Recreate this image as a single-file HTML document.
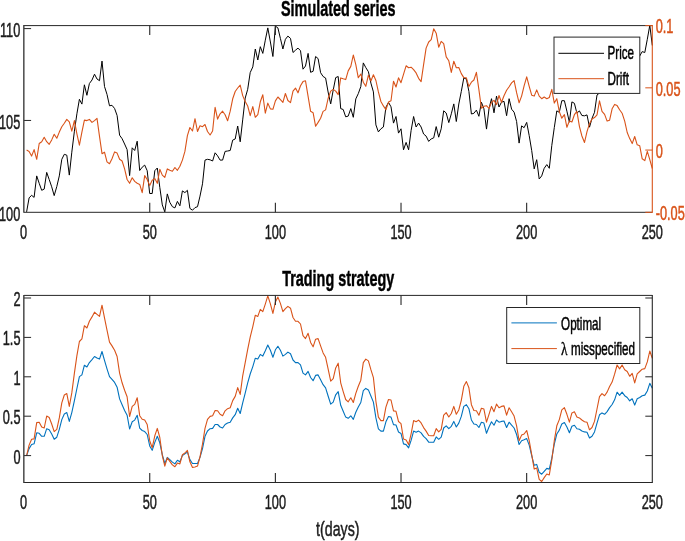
<!DOCTYPE html>
<html><head><meta charset="utf-8"><title>Simulated series</title>
<style>html,body{margin:0;padding:0;background:#fff}svg{display:block}text{font-family:"Liberation Sans",sans-serif}</style>
</head><body>
<svg width="685" height="541" viewBox="0 0 685 541">
<rect width="685" height="541" fill="#fff"/>
<polyline points="26.6,211.9 29.1,197.9 31.6,195.3 34.1,197.4 36.7,175.9 39.2,183.3 41.7,190.3 44.2,189.1 46.7,172.4 49.2,179.5 51.7,186.8 54.2,195.6 56.8,186.5 59.3,175.9 61.8,159.3 64.3,154.3 66.8,155.2 69.3,175.1 71.8,152.2 74.4,131.2 76.9,113.8 79.4,99.3 81.9,104.1 84.4,84.8 86.9,95.3 89.4,83.5 92.0,80.0 94.5,74.2 97.0,79.0 99.5,80.7 102.0,61.1 104.5,86.5 107.0,94.4 109.5,105.8 112.0,105.3 114.6,108.5 117.1,115.5 119.6,135.2 122.1,138.7 124.6,144.0 127.1,149.6 129.6,175.6 132.2,147.8 134.7,150.5 137.2,141.2 139.7,170.5 142.2,167.2 144.7,165.1 147.2,170.7 149.7,193.5 152.2,193.5 154.8,170.7 157.3,168.0 159.8,187.4 162.3,204.9 164.8,211.9 167.3,193.9 169.8,202.3 172.4,206.7 174.9,207.9 177.4,201.4 179.9,205.8 182.4,190.9 184.9,192.6 187.4,190.3 189.9,208.4 192.5,210.2 195.0,207.6 197.5,206.7 200.0,196.1 202.5,183.8 205.0,160.1 207.5,159.3 210.1,159.8 212.6,161.0 215.1,152.8 217.6,155.8 220.1,160.1 222.6,160.1 225.1,151.4 227.6,151.0 230.2,150.5 232.7,140.1 235.2,139.0 237.7,126.0 240.2,141.8 242.7,119.9 245.2,98.1 247.7,89.3 250.2,72.6 252.8,66.9 255.3,49.0 257.8,60.0 260.3,46.7 262.8,53.4 265.3,40.2 267.8,27.9 270.4,42.0 272.9,56.5 275.4,26.1 277.9,27.9 280.4,38.4 282.9,49.0 285.4,39.3 287.9,36.1 290.5,38.4 293.0,52.5 295.5,50.2 298.0,48.1 300.5,50.7 303.0,69.2 305.5,66.0 308.1,53.4 310.6,72.3 313.1,71.3 315.6,56.5 318.1,58.6 320.6,72.7 323.1,76.5 325.6,78.0 328.1,92.0 330.7,103.9 333.2,90.2 335.7,77.6 338.2,76.5 340.7,108.6 343.2,109.5 345.7,116.8 348.2,116.1 350.8,108.6 353.3,117.3 355.8,98.9 358.3,93.6 360.8,86.6 363.3,62.9 365.8,67.6 368.4,71.7 370.9,83.1 373.4,91.9 375.9,124.9 378.4,131.9 380.9,128.8 383.4,127.0 385.9,107.3 388.5,102.4 391.0,106.8 393.5,123.1 396.0,116.5 398.5,133.1 401.0,128.8 403.5,149.8 406.1,142.4 408.6,149.8 411.1,130.5 413.6,116.5 416.1,127.0 418.6,123.1 421.1,127.0 423.6,134.0 426.1,136.1 428.7,141.4 431.2,138.9 433.7,137.9 436.2,126.6 438.7,137.2 441.2,128.8 443.7,110.8 446.2,113.0 448.8,122.6 451.3,113.8 453.8,103.9 456.3,121.5 458.8,104.0 461.3,91.4 463.8,78.0 466.4,79.1 468.9,91.4 471.4,114.0 473.9,113.3 476.4,110.1 478.9,116.3 481.4,102.2 483.9,108.7 486.5,129.1 489.0,108.7 491.5,98.7 494.0,112.8 496.5,96.1 499.0,107.0 501.5,102.2 504.0,101.3 506.6,115.7 509.1,98.7 511.6,109.2 514.1,112.2 516.6,121.5 519.1,143.1 521.6,125.9 524.1,127.7 526.7,122.4 529.2,135.6 531.7,150.5 534.2,168.9 536.7,159.7 539.2,179.0 541.7,175.9 544.2,168.3 546.8,164.6 549.3,168.3 551.8,145.4 554.3,127.5 556.8,110.9 559.3,112.3 561.8,100.7 564.4,100.7 566.9,111.2 569.4,122.2 571.9,101.9 574.4,103.3 576.9,113.2 579.4,110.9 581.9,115.5 584.5,115.8 587.0,114.9 589.5,127.2 592.0,118.4 594.5,112.3 597.0,95.0 599.5,93.0 602.0,88.0 604.6,90.0 607.1,84.0 609.6,86.0 612.1,80.0 614.6,82.0 617.1,76.0 619.6,78.0 622.1,72.0 624.7,74.0 627.2,68.0 629.7,66.0 632.2,62.0 634.7,64.0 637.2,58.0 639.7,56.0 642.2,51.6 644.8,52.5 647.3,39.3 649.8,25.3 652.3,45.5" fill="none" stroke="#000000" stroke-width="1.0" stroke-linejoin="round"/>
<polyline points="26.6,150.1 29.1,151.4 31.6,156.1 34.1,149.6 36.7,159.3 39.2,143.5 41.7,141.7 44.2,137.3 46.7,141.7 49.2,144.3 51.7,139.9 54.2,134.2 56.8,138.2 59.3,132.1 61.8,126.8 64.3,123.3 66.8,119.4 69.3,121.9 71.8,131.2 74.4,120.6 76.9,133.8 79.4,145.2 81.9,132.1 84.4,120.1 86.9,120.6 89.4,119.4 92.0,122.4 94.5,120.6 97.0,118.3 99.5,136.4 102.0,153.7 104.5,152.2 107.0,161.9 109.5,163.7 112.0,158.7 114.6,151.9 117.1,153.1 119.6,159.3 122.1,161.0 124.6,168.9 127.1,179.5 129.6,183.3 132.2,177.7 134.7,181.4 137.2,183.3 139.7,184.4 142.2,192.6 144.7,175.6 147.2,179.5 149.7,185.6 152.2,180.3 154.8,178.6 157.3,183.3 159.8,169.3 162.3,175.1 164.8,177.3 167.3,168.9 169.8,170.3 172.4,171.2 174.9,167.5 177.4,170.3 179.9,166.3 182.4,160.1 184.9,151.4 187.4,135.6 189.9,127.5 192.5,131.0 195.0,118.7 197.5,131.5 200.0,125.7 202.5,126.7 205.0,124.5 207.5,131.5 210.1,135.0 212.6,131.0 215.1,107.3 217.6,119.1 220.1,113.8 222.6,111.2 225.1,114.7 227.6,120.8 230.2,111.2 232.7,98.8 235.2,91.5 237.7,88.0 240.2,85.1 242.7,95.6 245.2,101.6 247.7,106.0 250.2,115.6 252.8,106.6 255.3,117.3 257.8,114.7 260.3,101.8 262.8,94.8 265.3,113.2 267.8,103.1 270.4,108.9 272.9,109.3 275.4,100.9 277.9,97.0 280.4,99.6 282.9,102.3 285.4,93.5 287.9,100.5 290.5,102.6 293.0,91.1 295.5,88.1 298.0,92.8 300.5,85.8 303.0,81.6 305.5,80.8 308.1,96.3 310.6,111.3 313.1,112.7 315.6,126.3 318.1,122.4 320.6,118.2 323.1,111.4 325.6,109.9 328.1,98.5 330.7,91.1 333.2,89.4 335.7,91.1 338.2,94.6 340.7,77.9 343.2,78.8 345.7,79.6 348.2,70.9 350.8,66.4 353.3,55.0 355.8,64.7 358.3,77.8 360.8,74.0 363.3,82.2 365.8,86.3 368.4,75.2 370.9,81.0 373.4,74.7 375.9,80.5 378.4,91.9 380.9,101.5 383.4,105.9 385.9,109.8 388.5,102.1 391.0,100.7 393.5,81.3 396.0,87.0 398.5,77.8 401.0,82.7 403.5,74.4 406.1,65.8 408.6,67.8 411.1,67.2 413.6,69.7 416.1,72.9 418.6,78.3 421.1,81.6 423.6,64.7 426.1,48.1 428.7,42.0 431.2,39.7 433.7,28.8 436.2,33.2 438.7,47.2 441.2,41.4 443.7,43.7 446.2,56.9 448.8,60.8 451.3,72.4 453.8,61.2 456.3,67.7 458.8,67.5 461.3,73.6 463.8,77.6 466.4,77.8 468.9,86.6 471.4,82.2 473.9,80.0 476.4,72.3 478.9,89.6 481.4,108.3 483.9,106.3 486.5,105.7 489.0,108.5 491.5,102.4 494.0,100.4 496.5,104.6 499.0,95.5 501.5,102.2 504.0,95.8 506.6,90.3 509.1,86.8 511.6,82.9 514.1,80.6 516.6,92.7 519.1,102.8 521.6,96.1 524.1,85.9 526.7,76.8 529.2,86.4 531.7,95.2 534.2,96.1 536.7,89.9 539.2,96.1 541.7,98.7 544.2,97.0 546.8,98.7 549.3,97.5 551.8,89.4 554.3,103.1 556.8,98.7 559.3,111.6 561.8,118.2 564.4,114.7 566.9,127.3 569.4,120.9 571.9,122.0 574.4,114.7 576.9,111.4 579.4,126.3 581.9,136.0 584.5,142.5 587.0,131.6 589.5,123.7 592.0,119.0 594.5,117.6 597.0,114.9 599.5,100.9 602.0,111.4 604.6,114.4 607.1,121.1 609.6,120.2 612.1,108.8 614.6,104.4 617.1,105.6 619.6,109.7 622.1,113.2 624.7,121.1 627.2,132.5 629.7,138.6 632.2,143.6 634.7,136.5 637.2,144.8 639.7,145.7 642.2,158.8 644.8,160.6 647.3,151.3 649.8,159.7 652.3,168.5" fill="none" stroke="#D95319" stroke-width="1.1" stroke-linejoin="round"/>
<polyline points="26.6,455.6 29.1,448.6 31.6,444.5 34.1,443.8 36.7,432.8 39.2,433.3 41.7,436.3 44.2,436.3 46.7,428.7 49.2,429.8 51.7,434.0 54.2,439.3 56.8,437.2 59.3,429.3 61.8,419.6 64.3,414.0 66.8,412.6 69.3,421.4 71.8,412.6 74.4,400.6 76.9,388.5 79.4,376.6 81.9,374.9 84.4,365.2 86.9,367.0 89.4,362.6 92.0,359.6 94.5,356.5 97.0,357.9 99.5,359.1 102.0,351.5 104.5,360.3 107.0,368.8 109.5,376.6 112.0,379.3 114.6,382.4 117.1,387.2 119.6,398.9 122.1,404.7 124.6,410.5 127.1,415.2 129.6,429.0 132.2,421.7 134.7,420.1 137.2,415.2 139.7,428.2 142.2,430.5 144.7,431.6 147.2,434.5 149.7,445.9 152.2,450.3 154.8,442.4 157.3,436.3 159.8,442.8 162.3,454.7 164.8,463.5 167.3,457.4 169.8,459.6 172.4,462.1 174.9,463.9 177.4,460.3 179.9,461.8 182.4,455.6 184.9,453.9 187.4,452.1 189.9,459.6 192.5,463.5 195.0,463.5 197.5,463.5 200.0,457.4 202.5,448.6 205.0,436.3 207.5,431.0 210.1,428.7 212.6,428.4 215.1,424.5 217.6,424.5 220.1,427.0 222.6,428.0 225.1,424.5 227.6,423.1 230.2,422.2 232.7,417.9 235.2,414.7 237.7,408.2 240.2,413.5 242.7,402.9 245.2,393.1 247.7,382.8 250.2,374.0 252.8,366.6 255.3,358.2 257.8,359.1 260.3,354.4 262.8,356.1 265.3,350.8 267.8,345.0 270.4,350.3 272.9,357.3 275.4,349.8 277.9,346.3 280.4,350.3 282.9,356.1 285.4,354.4 287.9,352.1 290.5,353.8 293.0,360.0 295.5,362.6 298.0,362.6 300.5,364.9 303.0,373.1 305.5,374.9 308.1,371.4 310.6,377.5 313.1,380.7 315.6,375.4 318.1,374.9 320.6,379.7 323.1,384.7 325.6,387.9 328.1,396.0 330.7,404.2 333.2,402.1 335.7,394.8 338.2,391.6 340.7,405.3 343.2,411.3 345.7,417.1 348.2,418.3 350.8,415.8 353.3,419.4 355.8,412.3 358.3,407.1 360.8,402.5 363.3,390.7 365.8,388.4 368.4,389.9 370.9,396.0 373.4,402.1 375.9,417.9 378.4,428.8 380.9,431.1 383.4,431.1 385.9,421.8 388.5,416.5 391.0,417.1 393.5,424.6 396.0,425.0 398.5,432.0 401.0,433.4 403.5,443.9 406.1,444.6 408.6,447.8 411.1,440.4 413.6,431.1 416.1,432.3 418.6,431.1 421.1,432.9 423.6,436.4 426.1,438.7 428.7,442.2 431.2,442.3 433.7,442.3 436.2,436.9 438.7,439.3 441.2,437.2 443.7,428.0 446.2,425.8 448.8,428.7 451.3,426.3 453.8,421.4 456.3,427.0 458.8,423.1 461.3,416.4 463.8,406.4 466.4,404.7 468.9,408.7 471.4,420.0 473.9,424.0 476.4,424.5 478.9,427.5 481.4,422.2 483.9,423.1 486.5,433.3 489.0,427.0 491.5,421.7 494.0,425.2 496.5,420.0 499.0,422.2 501.5,421.4 504.0,421.0 506.6,427.5 509.1,422.2 511.6,425.2 514.1,428.0 516.6,434.5 519.1,444.5 521.6,440.7 524.1,439.8 526.7,438.6 529.2,445.1 531.7,455.6 534.2,465.3 536.7,464.4 539.2,472.3 541.7,474.2 544.2,471.4 546.8,468.4 549.3,469.1 551.8,458.2 554.3,444.2 556.8,434.0 559.3,430.1 561.8,424.0 564.4,422.6 566.9,427.0 569.4,432.8 571.9,426.3 574.4,425.2 576.9,428.7 579.4,429.3 581.9,431.0 584.5,431.9 587.0,432.2 589.5,438.0 592.0,436.3 594.5,431.9 597.0,423.1 599.5,414.8 602.0,412.9 604.6,414.3 607.1,411.6 609.6,407.6 612.1,404.5 614.6,399.8 617.1,392.2 619.6,395.3 622.1,392.2 624.7,395.7 627.2,397.5 629.7,400.8 632.2,398.8 634.7,405.1 637.2,398.8 639.7,397.5 642.2,395.7 644.8,395.1 647.3,391.0 649.8,383.3 652.3,388.2" fill="none" stroke="#0072BD" stroke-width="1.1" stroke-linejoin="round"/>
<polyline points="26.6,455.6 29.1,445.1 31.6,439.3 34.1,438.9 36.7,422.6 39.2,422.2 41.7,427.0 44.2,428.0 46.7,416.1 49.2,417.5 51.7,424.0 54.2,431.6 56.8,429.3 59.3,417.9 61.8,402.9 64.3,395.0 66.8,393.6 69.3,406.4 71.8,392.9 74.4,373.1 76.9,355.6 79.4,341.5 81.9,338.9 84.4,325.7 86.9,328.0 89.4,321.3 92.0,316.9 94.5,312.2 97.0,314.3 99.5,316.4 102.0,305.2 104.5,317.8 107.0,330.1 109.5,342.1 112.0,345.9 114.6,350.3 117.1,356.5 119.6,373.1 122.1,382.8 124.6,390.2 127.1,396.8 129.6,416.5 132.2,406.4 134.7,404.4 137.2,397.7 139.7,415.7 142.2,419.3 144.7,420.0 147.2,424.5 149.7,440.7 152.2,447.7 154.8,435.8 157.3,428.4 159.8,437.5 162.3,455.6 164.8,466.1 167.3,457.9 169.8,461.4 172.4,464.9 174.9,466.7 177.4,463.1 179.9,463.9 182.4,454.7 184.9,453.0 187.4,450.3 189.9,461.8 192.5,467.4 195.0,467.0 197.5,466.1 200.0,456.8 202.5,444.2 205.0,428.4 207.5,419.3 210.1,416.4 212.6,415.7 215.1,410.5 217.6,410.8 220.1,414.3 222.6,415.7 225.1,410.8 227.6,408.7 230.2,407.7 232.7,400.6 235.2,396.4 237.7,387.6 240.2,394.4 242.7,375.8 245.2,362.6 247.7,349.4 250.2,337.1 252.8,326.6 255.3,315.2 257.8,316.4 260.3,309.4 262.8,311.7 265.3,304.1 267.8,295.9 270.4,303.8 272.9,313.4 275.4,302.0 277.9,297.1 280.4,303.4 282.9,311.7 285.4,308.7 287.9,306.4 290.5,308.2 293.0,317.5 295.5,321.3 298.0,321.3 300.5,324.0 303.0,335.7 305.5,338.6 308.1,333.3 310.6,342.4 313.1,346.8 315.6,339.2 318.1,338.6 320.6,345.9 323.1,352.9 325.6,357.3 328.1,368.8 330.7,381.2 333.2,378.6 335.7,367.9 338.2,363.2 340.7,382.8 343.2,391.6 345.7,399.5 348.2,401.8 350.8,397.8 353.3,402.5 355.8,393.4 358.3,386.3 360.8,380.2 363.3,362.6 365.8,359.1 368.4,360.9 370.9,369.7 373.4,377.6 375.9,401.3 378.4,417.1 380.9,420.6 383.4,420.6 385.9,407.1 388.5,399.5 391.0,400.0 393.5,410.9 396.0,411.3 398.5,421.5 401.0,423.6 403.5,439.0 406.1,439.9 408.6,444.6 411.1,433.8 413.6,420.6 416.1,421.8 418.6,420.1 421.1,422.9 423.6,427.6 426.1,431.1 428.7,435.5 431.2,435.8 433.7,435.8 436.2,428.6 438.7,431.9 441.2,429.3 443.7,415.2 446.2,412.6 448.8,417.0 451.3,413.5 453.8,406.4 456.3,414.3 458.8,409.9 461.3,400.3 463.8,386.3 466.4,381.6 468.9,387.8 471.4,404.7 473.9,410.5 476.4,410.8 478.9,415.2 481.4,408.2 483.9,409.1 486.5,422.2 489.0,414.3 491.5,406.4 494.0,411.7 496.5,404.1 499.0,407.7 501.5,406.4 504.0,405.9 506.6,415.2 509.1,407.7 511.6,411.7 514.1,416.1 516.6,425.8 519.1,440.7 521.6,435.1 524.1,434.0 526.7,430.5 529.2,440.7 531.7,454.7 534.2,469.1 536.7,467.9 539.2,479.3 541.7,481.5 544.2,477.6 546.8,474.0 549.3,474.9 551.8,460.0 554.3,440.7 556.8,425.8 559.3,419.6 561.8,409.9 564.4,407.7 566.9,414.3 569.4,422.2 571.9,412.9 574.4,411.7 576.9,417.0 579.4,417.9 581.9,420.0 584.5,421.7 587.0,422.2 589.5,429.8 592.0,427.5 594.5,421.4 597.0,409.0 599.5,396.7 602.0,393.6 604.6,395.7 607.1,392.1 609.6,386.5 612.1,382.1 614.6,374.2 617.1,365.0 619.6,368.9 622.1,365.0 624.7,369.8 627.2,371.5 629.7,376.3 632.2,373.3 634.7,382.9 637.2,373.8 639.7,371.5 642.2,369.2 644.8,368.6 647.3,361.9 649.8,351.0 652.3,358.4" fill="none" stroke="#D95319" stroke-width="1.1" stroke-linejoin="round"/>
<line x1="24.10" y1="25.60" x2="652.30" y2="25.60" stroke="#262626" stroke-width="1"/>
<line x1="24.10" y1="212.30" x2="652.30" y2="212.30" stroke="#262626" stroke-width="1"/>
<line x1="23.85" y1="25.10" x2="23.85" y2="212.80" stroke="#262626" stroke-width="1.25"/>
<line x1="652.30" y1="25.10" x2="652.30" y2="212.80" stroke="#D95319" stroke-width="1.1"/>
<text transform="translate(23.50,239.00) scale(0.638,1)" font-size="20" text-anchor="middle" fill="#1c1c1c" font-weight="normal" stroke="#1c1c1c" stroke-width="0.42" vector-effect="non-scaling-stroke">0</text>
<line x1="149.74" y1="212.30" x2="149.74" y2="202.80" stroke="#262626" stroke-width="1.1"/>
<line x1="149.74" y1="25.60" x2="149.74" y2="35.10" stroke="#262626" stroke-width="1.1"/>
<text transform="translate(149.74,239.00) scale(0.638,1)" font-size="20" text-anchor="middle" fill="#1c1c1c" font-weight="normal" stroke="#1c1c1c" stroke-width="0.42" vector-effect="non-scaling-stroke">50</text>
<line x1="275.38" y1="212.30" x2="275.38" y2="202.80" stroke="#262626" stroke-width="1.1"/>
<line x1="275.38" y1="25.60" x2="275.38" y2="35.10" stroke="#262626" stroke-width="1.1"/>
<text transform="translate(275.38,239.00) scale(0.638,1)" font-size="20" text-anchor="middle" fill="#1c1c1c" font-weight="normal" stroke="#1c1c1c" stroke-width="0.42" vector-effect="non-scaling-stroke">100</text>
<line x1="401.02" y1="212.30" x2="401.02" y2="202.80" stroke="#262626" stroke-width="1.1"/>
<line x1="401.02" y1="25.60" x2="401.02" y2="35.10" stroke="#262626" stroke-width="1.1"/>
<text transform="translate(401.02,239.00) scale(0.638,1)" font-size="20" text-anchor="middle" fill="#1c1c1c" font-weight="normal" stroke="#1c1c1c" stroke-width="0.42" vector-effect="non-scaling-stroke">150</text>
<line x1="526.66" y1="212.30" x2="526.66" y2="202.80" stroke="#262626" stroke-width="1.1"/>
<line x1="526.66" y1="25.60" x2="526.66" y2="35.10" stroke="#262626" stroke-width="1.1"/>
<text transform="translate(526.66,239.00) scale(0.638,1)" font-size="20" text-anchor="middle" fill="#1c1c1c" font-weight="normal" stroke="#1c1c1c" stroke-width="0.42" vector-effect="non-scaling-stroke">200</text>
<text transform="translate(652.30,239.00) scale(0.638,1)" font-size="20" text-anchor="middle" fill="#1c1c1c" font-weight="normal" stroke="#1c1c1c" stroke-width="0.42" vector-effect="non-scaling-stroke">250</text>
<text transform="translate(20.30,221.10) scale(0.638,1)" font-size="20" text-anchor="end" fill="#1c1c1c" font-weight="normal" stroke="#1c1c1c" stroke-width="0.42" vector-effect="non-scaling-stroke">100</text>
<line x1="24.10" y1="120.45" x2="31.10" y2="120.45" stroke="#262626" stroke-width="1"/>
<text transform="translate(20.30,129.25) scale(0.638,1)" font-size="20" text-anchor="end" fill="#1c1c1c" font-weight="normal" stroke="#1c1c1c" stroke-width="0.42" vector-effect="non-scaling-stroke">105</text>
<line x1="24.10" y1="28.60" x2="31.10" y2="28.60" stroke="#262626" stroke-width="1"/>
<text transform="translate(20.30,37.40) scale(0.638,1)" font-size="20" text-anchor="end" fill="#1c1c1c" font-weight="normal" stroke="#1c1c1c" stroke-width="0.42" vector-effect="non-scaling-stroke">110</text>
<line x1="652.30" y1="212.30" x2="645.30" y2="212.30" stroke="#D95319" stroke-width="1"/>
<text transform="translate(655.70,220.30) scale(0.638,1)" font-size="20" text-anchor="start" fill="#D95319" font-weight="normal" stroke="#D95319" stroke-width="0.42" vector-effect="non-scaling-stroke">-0.05</text>
<line x1="652.30" y1="150.07" x2="645.30" y2="150.07" stroke="#D95319" stroke-width="1"/>
<text transform="translate(655.70,158.07) scale(0.638,1)" font-size="20" text-anchor="start" fill="#D95319" font-weight="normal" stroke="#D95319" stroke-width="0.42" vector-effect="non-scaling-stroke">0</text>
<line x1="652.30" y1="87.83" x2="645.30" y2="87.83" stroke="#D95319" stroke-width="1"/>
<text transform="translate(655.70,95.83) scale(0.638,1)" font-size="20" text-anchor="start" fill="#D95319" font-weight="normal" stroke="#D95319" stroke-width="0.42" vector-effect="non-scaling-stroke">0.05</text>
<line x1="652.30" y1="25.60" x2="645.30" y2="25.60" stroke="#D95319" stroke-width="1"/>
<text transform="translate(655.70,32.80) scale(0.638,1)" font-size="20" text-anchor="start" fill="#D95319" font-weight="normal" stroke="#D95319" stroke-width="0.42" vector-effect="non-scaling-stroke">0.1</text>
<text transform="translate(338.20,15.90) scale(0.655,1)" font-size="22" text-anchor="middle" fill="#000" font-weight="bold" stroke="#000" stroke-width="0.4" vector-effect="non-scaling-stroke">Simulated series</text>
<rect x="554" y="37.1" width="85.8" height="56.3" fill="#fff" stroke="#262626" stroke-width="1"/>
<line x1="558.40" y1="53.30" x2="604.00" y2="53.30" stroke="#000000" stroke-width="1"/>
<line x1="558.40" y1="78.70" x2="604.00" y2="78.70" stroke="#D95319" stroke-width="1"/>
<text transform="translate(607.60,59.40) scale(0.654,1)" font-size="17.8" text-anchor="start" fill="#000" font-weight="normal" stroke="#000" stroke-width="0.42" vector-effect="non-scaling-stroke">Price</text>
<text transform="translate(607.60,84.80) scale(0.654,1)" font-size="17.8" text-anchor="start" fill="#000" font-weight="normal" stroke="#000" stroke-width="0.42" vector-effect="non-scaling-stroke">Drift</text>
<line x1="24.10" y1="295.40" x2="652.30" y2="295.40" stroke="#262626" stroke-width="1"/>
<line x1="24.10" y1="482.50" x2="652.30" y2="482.50" stroke="#262626" stroke-width="1"/>
<line x1="23.85" y1="294.90" x2="23.85" y2="483.00" stroke="#262626" stroke-width="1.25"/>
<line x1="652.30" y1="294.90" x2="652.30" y2="483.00" stroke="#262626" stroke-width="1.1"/>
<text transform="translate(23.50,508.60) scale(0.638,1)" font-size="20" text-anchor="middle" fill="#1c1c1c" font-weight="normal" stroke="#1c1c1c" stroke-width="0.42" vector-effect="non-scaling-stroke">0</text>
<line x1="149.74" y1="482.50" x2="149.74" y2="473.00" stroke="#262626" stroke-width="1.1"/>
<line x1="149.74" y1="295.40" x2="149.74" y2="304.90" stroke="#262626" stroke-width="1.1"/>
<text transform="translate(149.74,508.60) scale(0.638,1)" font-size="20" text-anchor="middle" fill="#1c1c1c" font-weight="normal" stroke="#1c1c1c" stroke-width="0.42" vector-effect="non-scaling-stroke">50</text>
<line x1="275.38" y1="482.50" x2="275.38" y2="473.00" stroke="#262626" stroke-width="1.1"/>
<line x1="275.38" y1="295.40" x2="275.38" y2="304.90" stroke="#262626" stroke-width="1.1"/>
<text transform="translate(275.38,508.60) scale(0.638,1)" font-size="20" text-anchor="middle" fill="#1c1c1c" font-weight="normal" stroke="#1c1c1c" stroke-width="0.42" vector-effect="non-scaling-stroke">100</text>
<line x1="401.02" y1="482.50" x2="401.02" y2="473.00" stroke="#262626" stroke-width="1.1"/>
<line x1="401.02" y1="295.40" x2="401.02" y2="304.90" stroke="#262626" stroke-width="1.1"/>
<text transform="translate(401.02,508.60) scale(0.638,1)" font-size="20" text-anchor="middle" fill="#1c1c1c" font-weight="normal" stroke="#1c1c1c" stroke-width="0.42" vector-effect="non-scaling-stroke">150</text>
<line x1="526.66" y1="482.50" x2="526.66" y2="473.00" stroke="#262626" stroke-width="1.1"/>
<line x1="526.66" y1="295.40" x2="526.66" y2="304.90" stroke="#262626" stroke-width="1.1"/>
<text transform="translate(526.66,508.60) scale(0.638,1)" font-size="20" text-anchor="middle" fill="#1c1c1c" font-weight="normal" stroke="#1c1c1c" stroke-width="0.42" vector-effect="non-scaling-stroke">200</text>
<text transform="translate(652.30,508.60) scale(0.638,1)" font-size="20" text-anchor="middle" fill="#1c1c1c" font-weight="normal" stroke="#1c1c1c" stroke-width="0.42" vector-effect="non-scaling-stroke">250</text>
<line x1="24.10" y1="455.60" x2="31.10" y2="455.60" stroke="#262626" stroke-width="1"/>
<line x1="652.30" y1="455.60" x2="645.30" y2="455.60" stroke="#262626" stroke-width="1"/>
<text transform="translate(20.50,463.60) scale(0.638,1)" font-size="20" text-anchor="end" fill="#1c1c1c" font-weight="normal" stroke="#1c1c1c" stroke-width="0.42" vector-effect="non-scaling-stroke">0</text>
<line x1="24.10" y1="416.20" x2="31.10" y2="416.20" stroke="#262626" stroke-width="1"/>
<line x1="652.30" y1="416.20" x2="645.30" y2="416.20" stroke="#262626" stroke-width="1"/>
<text transform="translate(20.50,424.20) scale(0.638,1)" font-size="20" text-anchor="end" fill="#1c1c1c" font-weight="normal" stroke="#1c1c1c" stroke-width="0.42" vector-effect="non-scaling-stroke">0.5</text>
<line x1="24.10" y1="376.80" x2="31.10" y2="376.80" stroke="#262626" stroke-width="1"/>
<line x1="652.30" y1="376.80" x2="645.30" y2="376.80" stroke="#262626" stroke-width="1"/>
<text transform="translate(20.50,384.80) scale(0.638,1)" font-size="20" text-anchor="end" fill="#1c1c1c" font-weight="normal" stroke="#1c1c1c" stroke-width="0.42" vector-effect="non-scaling-stroke">1</text>
<line x1="24.10" y1="337.40" x2="31.10" y2="337.40" stroke="#262626" stroke-width="1"/>
<line x1="652.30" y1="337.40" x2="645.30" y2="337.40" stroke="#262626" stroke-width="1"/>
<text transform="translate(20.50,345.40) scale(0.638,1)" font-size="20" text-anchor="end" fill="#1c1c1c" font-weight="normal" stroke="#1c1c1c" stroke-width="0.42" vector-effect="non-scaling-stroke">1.5</text>
<line x1="24.10" y1="298.00" x2="31.10" y2="298.00" stroke="#262626" stroke-width="1"/>
<line x1="652.30" y1="298.00" x2="645.30" y2="298.00" stroke="#262626" stroke-width="1"/>
<text transform="translate(20.50,306.00) scale(0.638,1)" font-size="20" text-anchor="end" fill="#1c1c1c" font-weight="normal" stroke="#1c1c1c" stroke-width="0.42" vector-effect="non-scaling-stroke">2</text>
<text transform="translate(338.20,285.80) scale(0.655,1)" font-size="22" text-anchor="middle" fill="#000" font-weight="bold" stroke="#000" stroke-width="0.4" vector-effect="non-scaling-stroke">Trading strategy</text>
<text transform="translate(337.80,535.80) scale(0.7,1)" font-size="20.3" text-anchor="middle" fill="#1c1c1c" font-weight="normal" stroke="#1c1c1c" stroke-width="0.42" vector-effect="non-scaling-stroke">t(days)</text>
<rect x="506.7" y="307.5" width="133.1" height="56" fill="#fff" stroke="#262626" stroke-width="1"/>
<line x1="511.40" y1="322.90" x2="556.90" y2="322.90" stroke="#0072BD" stroke-width="1"/>
<line x1="511.40" y1="348.60" x2="556.90" y2="348.60" stroke="#D95319" stroke-width="1"/>
<text transform="translate(561.10,329.70) scale(0.654,1)" font-size="17.8" text-anchor="start" fill="#000" font-weight="normal" stroke="#000" stroke-width="0.42" vector-effect="non-scaling-stroke">Optimal</text>
<text transform="translate(561.0,355.4) scale(0.75,1)" font-size="17.8" style="font-family:'Liberation Serif',serif" fill="#000" stroke="#000" stroke-width="0.3" vector-effect="non-scaling-stroke">λ</text>
<text transform="translate(571.00,355.40) scale(0.654,1)" font-size="17.8" text-anchor="start" fill="#000" font-weight="normal" stroke="#000" stroke-width="0.42" vector-effect="non-scaling-stroke">misspecified</text>
</svg>
</body></html>
